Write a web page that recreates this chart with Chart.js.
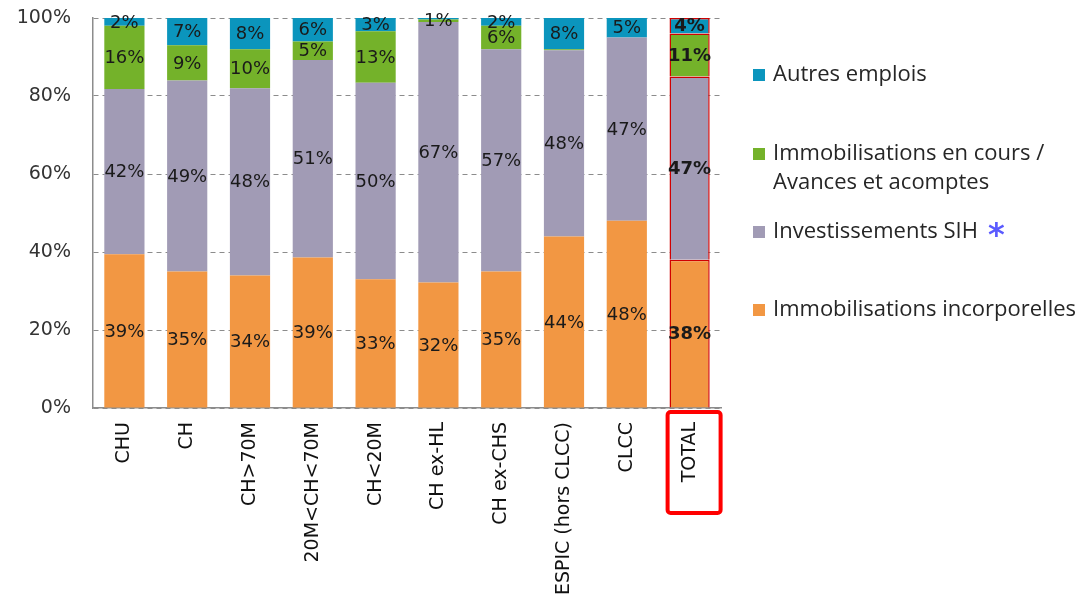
<!DOCTYPE html>
<html>
<head>
<meta charset="utf-8">
<script src="https://cdn.jsdelivr.net/npm/chart.js@4.4.0/dist/chart.umd.min.js"></script>
<style>
  body { margin: 0; background: #fff; }
  canvas { display: block; }
</style>
</head>
<body>
<canvas id="myChart" width="1084" height="594"></canvas>
<script>
var categories = ['CHU', 'CH', 'CH>70M', '20M<CH<70M', 'CH<20M', 'CH ex-HL', 'CH ex-CHS', 'ESPIC (hors CLCC)', 'CLCC', 'TOTAL'];

// parts in % (bottom to top)
var incorporelles = [39.4, 35, 34, 38.6, 33.0, 32.2, 35, 44, 48, 38];
var sih           = [42.4, 49, 48, 50.6, 50.4, 66.8, 57, 47.7, 47, 47];
var enCours       = [16.2, 9, 10, 4.8, 13.2, 0.6, 6, 0.3, 0, 11];
var autres        = [2.0, 7, 8, 6.0, 3.4, 0.4, 2, 8, 5, 4];

var yTicks = [0, 20, 40, 60, 80, 100];

var totalIndex = categories.length - 1;
var font = 'DejaVu Sans';

function redBorder(ctx) {
    return ctx.dataIndex === totalIndex ? '#d00000' : 'rgba(0,0,0,0)';
}
function redWidth(ctx) {
    return ctx.dataIndex === totalIndex ? 1.5 : 0;
}

var labelPlugin = {
    id: 'segLabels',
    afterDatasetsDraw: function(chart) {
        var c = chart.ctx;
        c.save();
        c.textAlign = 'center';
        c.textBaseline = 'middle';
        c.fillStyle = '#1a1a1a';
        chart.data.datasets.forEach(function(ds, i) {
            var meta = chart.getDatasetMeta(i);
            meta.data.forEach(function(bar, j) {
                var v = ds.data[j];
                if (Math.round(v) < 1) return;
                c.font = (j === totalIndex ? 'bold ' : '') + '18px "' + font + '"';
                c.fillText(Math.round(v) + '%', bar.x, (bar.y + bar.base) / 2 + 1);
            });
        });
        c.restore();
    }
};

var decorPlugin = {
    id: 'decor',
    afterDraw: function(chart) {
        var c = chart.ctx;
        c.save();
        // red box round the TOTAL label
        var xs = chart.scales.x;
        var cx = xs.getPixelForValue(totalIndex);
        c.strokeStyle = '#ff0000';
        c.lineWidth = 4;
        c.beginPath();
        c.roundRect(cx - 22, 412, 53, 101, 3);
        c.stroke();

        // legend
        var items = [
            { color: '#0b95bd', lines: ['Autres emplois'], y: 75 },
            { color: '#74b22a', lines: ['Immobilisations en cours /', 'Avances et acomptes'], y: 154 },
            { color: '#a19bb5', lines: ['Investissements SIH'], y: 232 },
            { color: '#f29743', lines: ['Immobilisations incorporelles'], y: 310 }
        ];
        c.font = '22px "Open Sans"';
        c.textAlign = 'left';
        c.textBaseline = 'middle';
        items.forEach(function(it) {
            c.fillStyle = it.color;
            c.fillRect(753, it.y - 6, 12, 12);
            c.fillStyle = '#262626';
            it.lines.forEach(function(t, k) {
                c.fillText(t, 773, it.y + k * 29);
            });
        });
        c.fillStyle = '#5a5aff';
        c.font = 'bold 32px "' + font + '"';
        c.fillText('*', 988, 237);
        c.restore();
    }
};

var ctx = document.getElementById('myChart').getContext('2d');
var chart = new Chart(ctx, {
    type: 'bar',
    data: {
        labels: categories,
        datasets: [
            { label: 'Immobilisations incorporelles', data: incorporelles, backgroundColor: '#f29743' },
            { label: 'Investissements SIH', data: sih, backgroundColor: '#a19bb5' },
            { label: 'Immobilisations en cours / Avances et acomptes', data: enCours, backgroundColor: '#74b22a' },
            { label: 'Autres emplois', data: autres, backgroundColor: '#0b95bd' }
        ].map(function(d) {
            d.borderColor = redBorder;
            d.borderWidth = redWidth;
            d.barPercentage = 0.64;
            d.categoryPercentage = 1;
            return d;
        })
    },
    options: {
        responsive: false,
        animation: false,
        layout: { padding: { top: 18, right: 363, left: 0, bottom: 0 } },
        plugins: {
            legend: { display: false },
            tooltip: { enabled: false }
        },
        scales: {
            x: {
                stacked: true,
                grid: { display: false, drawTicks: false },
                border: { color: '#8c8c8c', width: 1.5 },
                ticks: {
                    minRotation: 90, maxRotation: 90, padding: 14,
                    autoSkip: false,
                    color: '#111',
                    font: { family: font, size: 19 }
                },
                afterFit: function(s) { s.height = 186; s.paddingLeft = 0; s.paddingRight = 0; }
            },
            y: {
                stacked: true,
                min: 0, max: 100,
                afterBuildTicks: function(s) {
                    s.ticks = yTicks.map(function(v) { return { value: v }; });
                },
                grid: { color: '#8c8c8c', drawTicks: false, lineWidth: 1 },
                border: { color: '#8c8c8c', width: 1.5, dash: [5, 4] },
                ticks: {
                    padding: 22,
                    color: '#333',
                    font: { family: font, size: 19 },
                    callback: function(v) { return v + '%'; }
                },
                afterFit: function(s) { s.width = 93; s.paddingTop = 0; s.paddingBottom = 0; }
            }
        }
    },
    plugins: [labelPlugin, decorPlugin]
});
</script>
</body>
</html>
